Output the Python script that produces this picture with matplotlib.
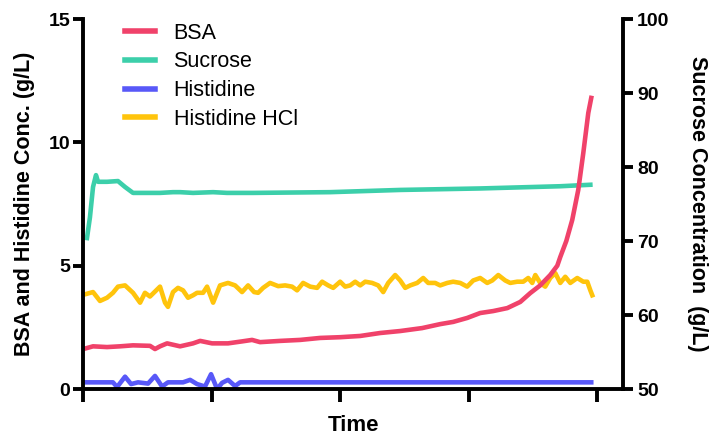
import matplotlib
matplotlib.use("Agg")
import matplotlib.pyplot as plt

plt.rcParams['font.family'] = ['Liberation Sans', 'DejaVu Sans']

# ---- data ----
bsa_t = [0.023, 0.078, 0.187, 0.288, 0.389, 0.521, 0.560, 0.599, 0.654, 0.755, 0.856, 0.911,
         1.004, 1.128, 1.237, 1.315, 1.377, 1.533, 1.689, 1.844, 2.0, 2.156, 2.311, 2.467,
         2.638, 2.778, 2.879, 2.988, 3.089, 3.191, 3.300, 3.401, 3.479, 3.556, 3.634, 3.689,
         3.712, 3.759, 3.805, 3.852, 3.891, 3.930, 3.953]
bsa_v = [1.65, 1.73, 1.70, 1.73, 1.77, 1.75, 1.62, 1.73, 1.85, 1.73, 1.85, 1.95,
         1.85, 1.85, 1.93, 1.99, 1.90, 1.95, 1.99, 2.07, 2.10, 2.15, 2.27, 2.35,
         2.47, 2.63, 2.72, 2.88, 3.08, 3.16, 3.28, 3.53, 3.89, 4.20, 4.62, 5.00,
         5.35, 6.00, 6.85, 8.07, 9.56, 11.19, 11.80]

suc_t = [0.031, 0.054, 0.078, 0.101, 0.117, 0.187, 0.272, 0.327, 0.389, 0.498, 0.599, 0.700,
         0.755, 0.856, 1.012, 1.120, 1.323, 1.922, 2.467, 3.089, 3.712, 3.946]
suc_v = [70.4, 73.2, 77.3, 78.9, 78.0, 78.0, 78.1, 77.3, 76.5, 76.5, 76.5, 76.6,
         76.6, 76.5, 76.6, 76.5, 76.5, 76.6, 76.9, 77.1, 77.4, 77.6]

his_t = [0.023, 0.233, 0.265, 0.327, 0.374, 0.428, 0.506, 0.560, 0.615, 0.661, 0.778, 0.833,
         0.887, 0.949, 0.996, 1.043, 1.082, 1.128, 1.183, 1.222, 3.953]
his_v = [0.27, 0.27, 0.08, 0.50, 0.20, 0.27, 0.22, 0.53, 0.10, 0.27, 0.27, 0.37,
         0.20, 0.10, 0.60, 0.00, 0.25, 0.37, 0.12, 0.27, 0.27]

hcl_t = [0.023, 0.078, 0.132, 0.187, 0.233, 0.272, 0.327, 0.389, 0.444, 0.482, 0.521, 0.560,
         0.599, 0.638, 0.661, 0.700, 0.739, 0.778, 0.817, 0.856, 0.887, 0.934, 0.965, 1.012,
         1.066, 1.128, 1.183, 1.237, 1.284, 1.331, 1.362, 1.401, 1.455, 1.518, 1.572, 1.626,
         1.665, 1.712, 1.767, 1.821, 1.860, 1.907, 1.946, 2.0, 2.039, 2.078, 2.117, 2.156,
         2.195, 2.249, 2.296, 2.335, 2.374, 2.428, 2.467, 2.506, 2.545, 2.599, 2.646, 2.685,
         2.739, 2.778, 2.833, 2.879, 2.934, 2.988, 3.035, 3.089, 3.144, 3.183, 3.230, 3.284,
         3.323, 3.377, 3.424, 3.463, 3.494, 3.518, 3.556, 3.595, 3.634, 3.673, 3.712, 3.751,
         3.790, 3.844, 3.891, 3.922, 3.946, 3.961]
hcl_v = [3.85, 3.93, 3.57, 3.70, 3.90, 4.15, 4.20, 3.90, 3.50, 3.90, 3.75, 3.95,
         4.15, 3.50, 3.33, 3.93, 4.10, 4.00, 3.70, 3.80, 3.90, 3.90, 4.15, 3.50,
         4.20, 4.30, 4.20, 3.93, 4.20, 3.93, 3.90, 4.10, 4.30, 4.17, 4.20, 4.15,
         4.00, 4.30, 4.15, 4.10, 4.35, 4.20, 4.10, 4.35, 4.15, 4.20, 4.35, 4.20,
         4.35, 4.30, 4.20, 3.93, 4.30, 4.62, 4.40, 4.10, 4.20, 4.30, 4.50, 4.30,
         4.30, 4.20, 4.30, 4.35, 4.30, 4.15, 4.40, 4.50, 4.30, 4.40, 4.62, 4.40,
         4.30, 4.35, 4.35, 4.50, 4.30, 4.62, 4.30, 4.15, 4.50, 4.70, 4.30, 4.55,
         4.30, 4.50, 4.35, 4.35, 4.00, 3.80]

x_ticks = [0, 1, 2, 3, 4]
left_ticks = [0, 5, 10, 15]
right_ticks = [50, 60, 70, 80, 90, 100]

c_bsa = '#F0426A'
c_suc = '#3CCFAA'
c_his = '#5858F8'
c_hcl = '#FFC40C'

fig = plt.figure(figsize=(7.15, 4.36), dpi=100)
ax1 = fig.add_axes([83/715, 1-389/436, (623-83)/715, (389-19)/436])
ax2 = ax1.twinx()
ax1.set_zorder(ax2.get_zorder() + 1)
ax1.patch.set_visible(False)

lw = 3.3
l_suc, = ax2.plot(suc_t, suc_v, color=c_suc, lw=lw, solid_joinstyle='round')
l_hcl, = ax1.plot(hcl_t, hcl_v, color=c_hcl, lw=lw, solid_joinstyle='round')
l_his, = ax1.plot(his_t, his_v, color=c_his, lw=lw, solid_joinstyle='round')
l_bsa, = ax1.plot(bsa_t, bsa_v, color=c_bsa, lw=lw, solid_joinstyle='round')

ax1.set_xlim(0, 4.2)
ax1.set_ylim(0, 15)
ax2.set_ylim(50, 100)
ax1.set_xticks(x_ticks)
ax1.set_xticklabels([])
ax1.set_yticks(left_ticks)
ax2.set_yticks(right_ticks)

spw = 2.8
for ax in (ax1, ax2):
    ax.spines['top'].set_visible(False)
    for s in ('left', 'right', 'bottom'):
        ax.spines[s].set_linewidth(spw)
ax1.spines['right'].set_visible(False)
ax2.spines['left'].set_visible(False)
ax2.spines['bottom'].set_visible(False)

ax1.tick_params(axis='both', direction='out', length=7, width=spw, pad=2)
ax1.tick_params(axis='x', length=9)
ax2.tick_params(axis='y', direction='out', length=7, width=spw, pad=3)
for lab in ax1.get_yticklabels() + ax2.get_yticklabels():
    lab.set_fontsize(14)
    lab.set_fontweight('bold')

ax1.set_ylabel('BSA and Histidine Conc. (g/L)', fontsize=15.5, fontweight='bold', labelpad=10)
ax2.set_ylabel('Sucrose Concentration  (g/L)', fontsize=15.5, fontweight='bold',
               rotation=270, labelpad=28)
ax1.set_xlabel('Time', fontsize=16, fontweight='bold', labelpad=8)

leg = ax1.legend([l_bsa, l_suc, l_his, l_hcl], ['BSA', 'Sucrose', 'Histidine', 'Histidine HCl'],
                 loc='upper left', bbox_to_anchor=(0.078, 0.99), frameon=False, fontsize=15.5,
                 handlelength=1.4, handletextpad=0.85, labelspacing=0.36,
                 borderpad=0, borderaxespad=0)
for h in leg.get_lines():
    h.set_linewidth(4)

fig.savefig('out.png', dpi=100)
